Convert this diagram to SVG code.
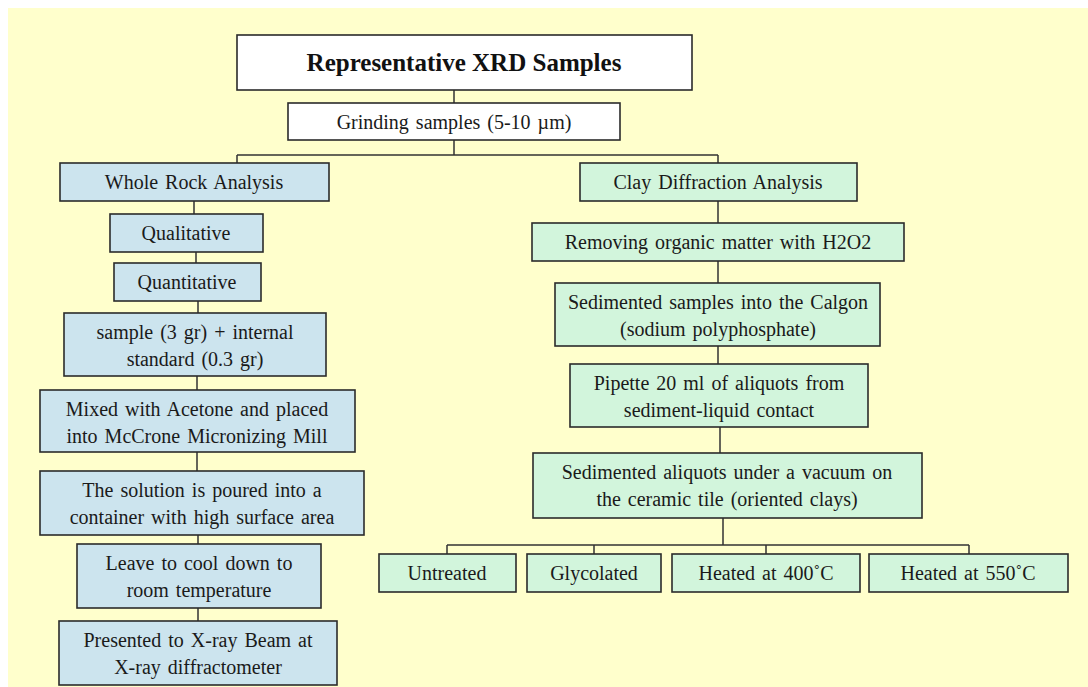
<svg xmlns="http://www.w3.org/2000/svg" width="1088" height="687" viewBox="0 0 1088 687">
<style>
.bg{fill:#FFFFCC}
.box{stroke:#2b2b2b;stroke-width:1.6}
.w{fill:#FFFFFF}
.b{fill:#CCE4EE}
.g{fill:#D2F5DC}
.t{font-family:"Liberation Serif","Times New Roman",serif;font-size:20px;fill:#1a1a1a;text-anchor:middle;word-spacing:2px}
.title{font-family:"Liberation Serif","Times New Roman",serif;font-size:25px;font-weight:bold;fill:#111;text-anchor:middle}
.c{stroke:#333;stroke-width:1.5;fill:none}
</style>
<rect width="1088" height="687" fill="#FFFFFF"/>
<rect class="bg" x="8" y="8" width="1080" height="679"/>
<g id="connectors">
<path class="c" d="M454 90V103M454 140V155M237 155H718M237 155V163M718 155V163"/>
<path class="c" d="M194 201V214M196 252V263M198 301V313M197 376V390M197 452V471M198 535V544M198 608V621"/>
<path class="c" d="M718 201V223M718 261V283M718 346V364M720 427V453M723 518V545M447 545H969M447 545V554M594 545V554M766 545V554M969 545V554"/>
</g>
<g id="n-title"><rect class="box w" x="237" y="35" width="455" height="55"/><text class="title" x="464" y="71">Representative XRD Samples</text></g>
<g id="n-grind"><rect class="box w" x="288" y="103" width="332" height="37"/><text class="t" x="454" y="129">Grinding  samples  (5-10 µm)</text></g>
<g id="n-whole"><rect class="box b" x="60" y="163" width="269" height="38"/><text class="t" x="194" y="189">Whole  Rock Analysis</text></g>
<g id="n-qual"><rect class="box b" x="110" y="214" width="153" height="38"/><text class="t" x="186" y="240">Qualitative</text></g>
<g id="n-quant"><rect class="box b" x="114" y="263" width="147" height="38"/><text class="t" x="187" y="289">Quantitative</text></g>
<g id="n-sample"><rect class="box b" x="64" y="313" width="262" height="63"/><text class="t" x="195" y="339">sample  (3  gr) + internal</text><text class="t" x="195" y="366">standard  (0.3  gr)</text></g>
<g id="n-mixed"><rect class="box b" x="40" y="390" width="315" height="62"/><text class="t" x="197" y="416">Mixed  with  Acetone  and placed</text><text class="t" x="197" y="443">into  McCrone  Micronizing  Mill</text></g>
<g id="n-solution"><rect class="box b" x="40" y="471" width="324" height="64"/><text class="t" x="202" y="497">The  solution  is poured into  a</text><text class="t" x="202" y="524">container  with  high  surface  area</text></g>
<g id="n-leave"><rect class="box b" x="77" y="544" width="244" height="64"/><text class="t" x="199" y="570">Leave to cool down to</text><text class="t" x="199" y="597">room  temperature</text></g>
<g id="n-present"><rect class="box b" x="59" y="621" width="278" height="64"/><text class="t" x="198" y="647">Presented to X-ray Beam  at</text><text class="t" x="198" y="674">X-ray  diffractometer</text></g>
<g id="n-clay"><rect class="box g" x="580" y="163" width="277" height="38"/><text class="t" x="718" y="189">Clay  Diffraction  Analysis</text></g>
<g id="n-remove"><rect class="box g" x="532" y="223" width="372" height="38"/><text class="t" x="718" y="249">Removing  organic  matter  with  H2O2</text></g>
<g id="n-sedsamples"><rect class="box g" x="555" y="283" width="325" height="63"/><text class="t" x="718" y="309">Sedimented  samples  into  the  Calgon</text><text class="t" x="718" y="336">(sodium  polyphosphate)</text></g>
<g id="n-pipette"><rect class="box g" x="570" y="364" width="298" height="63"/><text class="t" x="719" y="390">Pipette  20 ml  of aliquots  from</text><text class="t" x="719" y="417">sediment-liquid  contact</text></g>
<g id="n-sedaliquots"><rect class="box g" x="533" y="453" width="389" height="65"/><text class="t" x="727" y="479">Sedimented  aliquots  under  a vacuum  on</text><text class="t" x="727" y="506">the  ceramic  tile  (oriented  clays)</text></g>
<g id="n-untreated"><rect class="box g" x="379" y="554" width="137" height="38"/><text class="t" x="447" y="580">Untreated</text></g>
<g id="n-glyco"><rect class="box g" x="527" y="554" width="134" height="38"/><text class="t" x="594" y="580">Glycolated</text></g>
<g id="n-h400"><rect class="box g" x="672" y="554" width="188" height="38"/><text class="t" x="766" y="580">Heated at 400˚C</text></g>
<g id="n-h550"><rect class="box g" x="869" y="554" width="199" height="38"/><text class="t" x="968" y="580">Heated at 550˚C</text></g>
</svg>
